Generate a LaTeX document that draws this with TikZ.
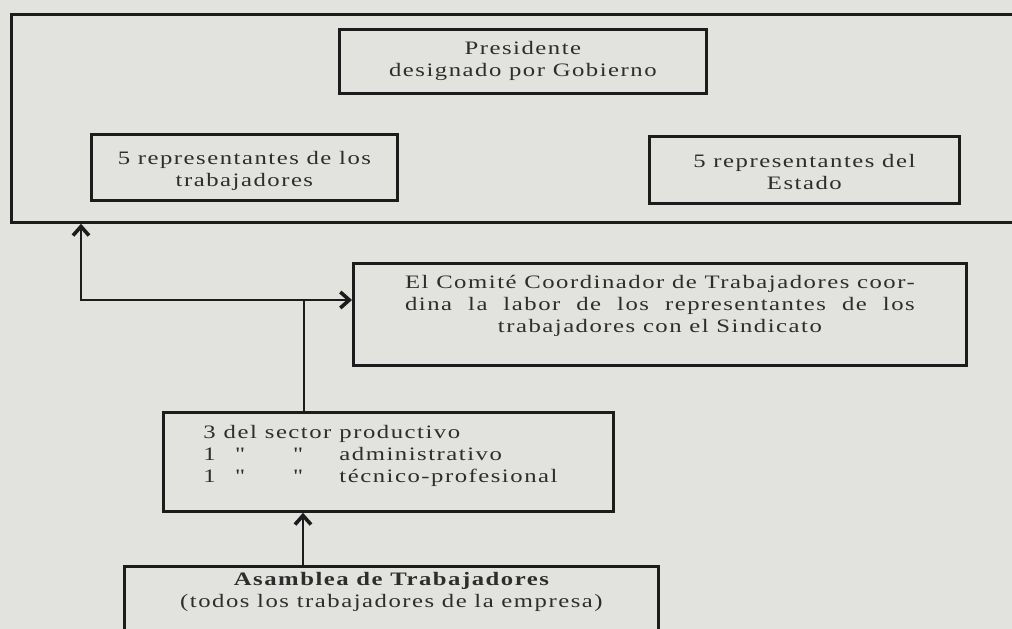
\documentclass[tikz,border=0pt]{standalone}
\usepackage{fontspec}
\usetikzlibrary{arrows.meta}
\newfontfamily\reff[FakeStretch=1.3,LetterSpace=8]{Liberation Serif}
\definecolor{paper}{RGB}{226,226,223}
\definecolor{ink}{RGB}{28,28,28}
\definecolor{txt}{RGB}{45,45,45}
\newlength\cwid
\newcommand{\liftbox}[2]{\raisebox{#1}[\height][\depth]{\begin{tabular}{@{}c@{}}#2\end{tabular}}}
\tikzset{
  box/.style={draw=ink, line width=2.8pt, anchor=north west, inner sep=0pt,
    font=\reff\fontsize{19}{22}\selectfont, text=txt, align=center},
  conn/.style={draw=ink, line width=2.6pt},
  tip/.style={-{Straight Barb[length=9pt,width=16pt,line width=3.6pt]}},
  tips/.style={{Straight Barb[length=9pt,width=16pt,line width=3.6pt]}-{Straight Barb[length=9pt,width=16pt,line width=3.6pt]}}
}
\begin{document}
\begin{tikzpicture}[x=1pt,y=-1pt]
\fill[paper] (0,0) rectangle (1012,629);
\useasboundingbox (0,0) rectangle (1012,629);

% council frame (right side runs off the page)
\node[box, minimum width=1040, minimum height=208] (consejo) at (10,13) {};

\node[box, minimum width=367, minimum height=64] (pres) at (338,28)
  {Presidente\\designado por Gobierno};
\node[box, minimum width=306, minimum height=66] (trab) at (90,133)
  {\liftbox{-4pt}{5 representantes de los\\trabajadores}};
\node[box, minimum width=310, minimum height=67] (estado) at (648,135)
  {\liftbox{-4pt}{5 representantes del\\Estado}};

\node[box, minimum width=613, minimum height=102] (comite) at (352,262)
  {\settowidth{\cwid}{El Comité Coordinador de Trabajadores coor-}%
   \liftbox{8pt}{\makebox[\cwid][s]{El Comité Coordinador de Trabajadores coor-}\\
   \makebox[\cwid][s]{dina la labor de los representantes de los}\\
   trabajadores con el Sindicato}};

\node[box, minimum width=450, minimum height=99] (sector) at (162,411)
  {\raisebox{6pt}[\height][\depth]{\begin{tabular}{@{}l@{\hspace{8pt}}c@{\hspace{8pt}}c@{\hspace{8pt}}l@{}}
   3 & del & sector & productivo\\
   1 & " & " & administrativo\\
   1 & " & " & técnico-profesional
   \end{tabular}}\hspace*{16pt}};

\node[box, minimum width=534, minimum height=100] (asam) at (123,565)
  {\liftbox{24pt}{\bfseries Asamblea de Trabajadores\\(todos los trabajadores de la empresa)}};

% connectors
\coordinate (elbow) at (81,300);
\coordinate (junc) at (304,300);
\coordinate (feed) at (303,0);

\draw[conn, tips] (consejo.south -| elbow) -- (elbow) -- (elbow -| comite.west);
\draw[conn] (sector.north -| junc) -- (junc);
\draw[conn, tip] (asam.north -| feed) -- (sector.south -| feed);
\end{tikzpicture}
\end{document}
